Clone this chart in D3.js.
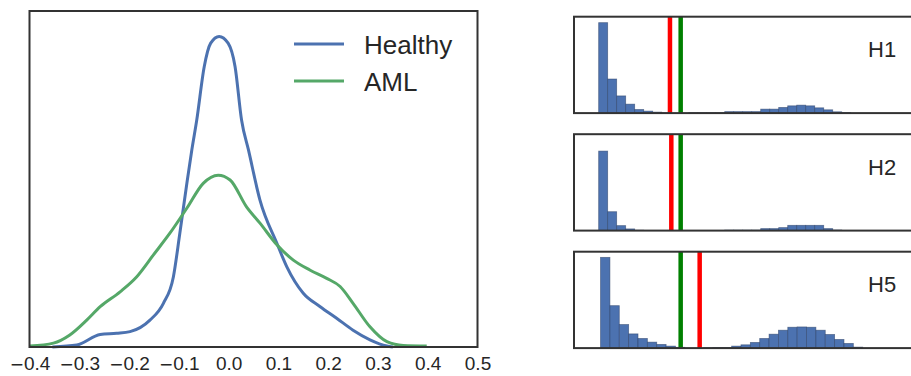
<!DOCTYPE html>
<html>
<head>
<meta charset="utf-8">
<script src="https://cdn.jsdelivr.net/npm/d3@7"></script>
<style>
  html, body { margin: 0; padding: 0; background: #fff; }
  svg { display: block; font-family: "Liberation Sans", Arial, sans-serif; }
</style>
</head>
<body>
<svg id="chart" width="911" height="376"></svg>
<script>
// ---------- Data: KDE curves (left panel) ----------
const healthyX = [-0.354, -0.305, -0.258, -0.225, -0.198, -0.158, -0.131, -0.111, -0.098, -0.084, -0.074, -0.064, -0.049, -0.036, -0.019, -0.001, 0.013, 0.026, 0.040, 0.063, 0.097, 0.117, 0.150, 0.184, 0.217, 0.250, 0.284, 0.318, 0.330];
const healthyY = [0.00, 0.04, 0.26, 0.285, 0.32, 0.56, 0.91, 1.46, 2.37, 3.40, 4.10, 4.73, 5.84, 6.33, 6.47, 6.33, 5.84, 4.73, 4.10, 3.06, 2.16, 1.67, 1.12, 0.84, 0.60, 0.35, 0.15, 0.02, 0.00];

const amlX = [-0.399, -0.352, -0.319, -0.285, -0.258, -0.218, -0.185, -0.151, -0.118, -0.084, -0.051, -0.021, 0.003, 0.036, 0.063, 0.097, 0.130, 0.164, 0.197, 0.224, 0.250, 0.284, 0.318, 0.351, 0.398];
const amlY = [0.02, 0.08, 0.25, 0.56, 0.84, 1.15, 1.46, 1.92, 2.37, 2.89, 3.41, 3.58, 3.48, 2.92, 2.58, 2.13, 1.81, 1.60, 1.43, 1.26, 0.91, 0.42, 0.11, 0.03, 0.02];

const kdeSeries = ["Healthy", "AML"];
const xTicks = [-0.4, -0.3, -0.2, -0.1, 0.0, 0.1, 0.2, 0.3, 0.4, 0.5];

// ---------- Data: histograms (right panels) ----------
const panelLabels = ["H1", "H2", "H5"];
const binStarts = [0, 0, 0.21];
const binWidths = [1, 1, 1.04];
const countsH1 = [910, 343, 173, 90, 36, 20, 10, 3, 0, 0, 4, 4, 4, 4, 15, 15, 15, 15, 40, 40, 57, 73, 80, 73, 53, 33, 13, 5];
const countsH2 = [800, 190, 50, 17, 4, 1, 0, 0, 0, 0, 0, 0, 2, 2, 5, 5, 5, 5, 20, 20, 30, 53, 53, 53, 53, 20, 6, 0];
const countsH5 = [913, 427, 237, 143, 97, 60, 37, 20, 8, 0, 0, 3, 7, 7, 20, 33, 57, 97, 140, 180, 210, 213, 210, 180, 137, 87, 47, 10];
const redThresholds = [7.92, 8.07, 11.22];
const greenThresholds = [9.11, 9.11, 9.11];

// ---------- Drawing ----------
const svg = d3.select("#chart");
const BLUE = "#4c72b0", GREEN = "#55a868", FRAME = "#333333", TEXT = "#262626";

// Left KDE panel
const L = { left: 29.5, right: 477.5, top: 11, bottom: 347 };
const x = d3.scaleLinear().domain([-0.4, 0.5]).range([L.left, L.right]);
const y = d3.scaleLinear().domain([0, 7]).range([L.bottom, L.top]);

const line = d3.line().x(d => x(d[0])).y(d => y(d[1])).curve(d3.curveMonotoneX);
const kdeData = [
  d3.zip(healthyX, healthyY),
  d3.zip(amlX, amlY)
];
const kdeColors = [BLUE, GREEN];

const gL = svg.append("g");
gL.selectAll("path.kde").data(kdeData).join("path")
  .attr("class", "kde")
  .attr("d", line)
  .attr("fill", "none")
  .attr("stroke", (d, i) => kdeColors[i])
  .attr("stroke-width", 3)
  .attr("stroke-linejoin", "round");

// axis
const fmt = d3.format(".1f");
const xAxis = d3.axisBottom(x).tickValues(xTicks).tickSize(0).tickPadding(10)
  .tickFormat(fmt);
const ax = gL.append("g").attr("transform", `translate(0,${L.bottom})`).call(xAxis);
ax.select(".domain").remove();
ax.selectAll("text")
  .attr("font-size", 19).attr("fill", TEXT)
  .attr("font-family", "'Liberation Sans', Arial, sans-serif")
  .each(function(d) {
    const s = fmt(d);
    const t = d3.select(this).text(null);
    if (s[0] === "\u2212") {
      t.append("tspan").attr("font-family", "'DejaVu Sans', sans-serif").attr("font-size", 17).text("\u2212");
      t.append("tspan").text(s.slice(1));
    } else {
      t.append("tspan").text(s);
    }
  });

gL.append("rect")
  .attr("x", L.left).attr("y", L.top)
  .attr("width", L.right - L.left).attr("height", L.bottom - L.top)
  .attr("fill", "none").attr("stroke", FRAME).attr("stroke-width", 2);

// legend
const leg = gL.append("g");
kdeSeries.forEach((name, i) => {
  const yy = 44 + i * 37;
  leg.append("line").attr("x1", 294).attr("x2", 344).attr("y1", yy).attr("y2", yy)
    .attr("stroke", kdeColors[i]).attr("stroke-width", 3);
  leg.append("text").attr("x", 364).attr("y", yy + 9.5)
    .attr("font-size", 26).attr("fill", TEXT).text(name);
});

// Right histogram panels
const R = { left: 574, right: 915, top0: 16.7, step: 117.5, height: 96.4 };
const hx = d3.scaleLinear().domain([-2.74, 35.14]).range([R.left, R.right]);
const allCounts = [countsH1, countsH2, countsH5];
const hyMax = 970;

allCounts.forEach((counts, p) => {
  const top = R.top0 + p * R.step;
  const bottom = top + R.height;
  const hy = d3.scaleLinear().domain([0, hyMax]).range([bottom, top]);
  const g = svg.append("g");
  const bins = counts.map((c, k) => ({
    x0: binStarts[p] + k * binWidths[p],
    x1: binStarts[p] + (k + 1) * binWidths[p],
    c
  })).filter(b => b.c > 0);

  g.selectAll("rect.bar").data(bins).join("rect")
    .attr("class", "bar")
    .attr("x", b => hx(b.x0))
    .attr("width", b => hx(b.x1) - hx(b.x0))
    .attr("y", b => hy(b.c))
    .attr("height", b => hy(0) - hy(b.c))
    .attr("fill", BLUE)
    .attr("stroke", "#2a3f66").attr("stroke-opacity", 0.6).attr("stroke-width", 0.8);

  const th = [
    { v: redThresholds[p], color: "#ff0000" },
    { v: greenThresholds[p], color: "#008000" }
  ];
  g.selectAll("line.th").data(th).join("line")
    .attr("class", "th")
    .attr("x1", d => hx(d.v)).attr("x2", d => hx(d.v))
    .attr("y1", top).attr("y2", bottom)
    .attr("stroke", d => d.color).attr("stroke-width", 4.5);

  g.append("rect")
    .attr("x", R.left).attr("y", top)
    .attr("width", R.right - R.left).attr("height", R.height)
    .attr("fill", "none").attr("stroke", FRAME).attr("stroke-width", 2);

  g.append("text").attr("x", 868).attr("y", top + 40.5)
    .attr("font-size", 22).attr("fill", TEXT).text(panelLabels[p]);
});
</script>
</body>
</html>
